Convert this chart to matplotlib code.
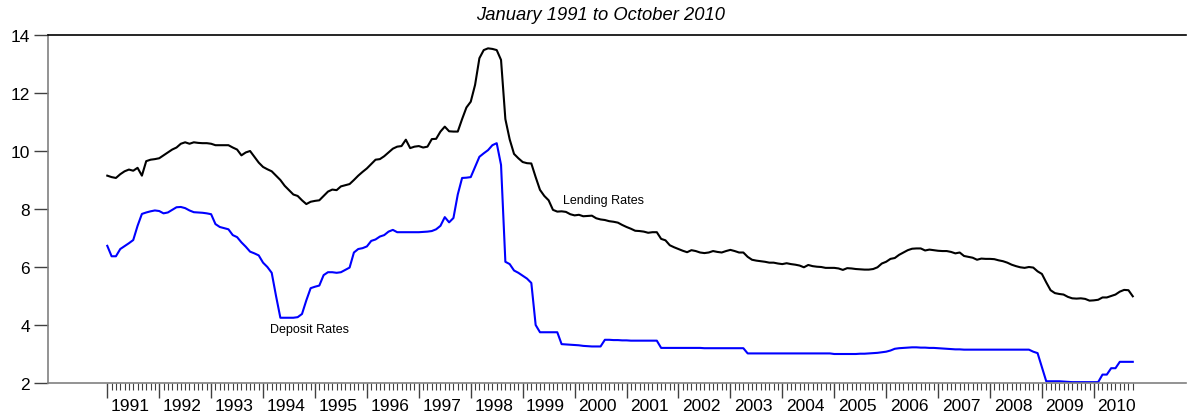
import numpy as np
import matplotlib
matplotlib.use("Agg")
import matplotlib.pyplot as plt

plt.rcParams['font.family'] = ['Liberation Sans', 'DejaVu Sans']

# monthly rates, January 1991 to October 2010
years = list(range(1991, 2011))

lending = [
    9.15, 9.10, 9.07, 9.20, 9.30, 9.36, 9.32, 9.42, 9.15, 9.65, 9.70, 9.72,       # 1991
    9.75, 9.85, 9.95, 10.05, 10.12, 10.25, 10.30, 10.25, 10.30, 10.28, 10.27, 10.27,  # 1992
    10.25, 10.20, 10.20, 10.20, 10.20, 10.12, 10.05, 9.85, 9.95, 10.00, 9.80, 9.60,  # 1993
    9.45, 9.37, 9.30, 9.15, 9.00, 8.80, 8.65, 8.50, 8.45, 8.30, 8.17, 8.25,       # 1994
    8.28, 8.30, 8.45, 8.60, 8.67, 8.65, 8.78, 8.82, 8.86, 9.00, 9.15, 9.28,       # 1995
    9.40, 9.55, 9.70, 9.72, 9.82, 9.95, 10.08, 10.15, 10.17, 10.39, 10.10, 10.15,  # 1996
    10.17, 10.12, 10.15, 10.41, 10.42, 10.67, 10.84, 10.68, 10.67, 10.67, 11.10, 11.50,  # 1997
    11.70, 12.28, 13.20, 13.48, 13.54, 13.52, 13.48, 13.14, 11.10, 10.40, 9.90, 9.75,  # 1998
    9.62, 9.58, 9.57, 9.10, 8.66, 8.45, 8.30, 7.97, 7.91, 7.92, 7.90, 7.82,       # 1999
    7.78, 7.80, 7.75, 7.76, 7.77, 7.68, 7.64, 7.62, 7.58, 7.56, 7.53, 7.45,       # 2000
    7.38, 7.32, 7.25, 7.24, 7.22, 7.18, 7.20, 7.20, 6.97, 6.92, 6.75, 6.68,       # 2001
    6.62, 6.56, 6.51, 6.58, 6.55, 6.50, 6.48, 6.50, 6.55, 6.52, 6.50, 6.55,       # 2002
    6.59, 6.55, 6.50, 6.50, 6.35, 6.25, 6.22, 6.20, 6.18, 6.15, 6.15, 6.12,       # 2003
    6.10, 6.13, 6.10, 6.08, 6.05, 5.99, 6.07, 6.03, 6.01, 6.00, 5.97, 5.97,       # 2004
    5.97, 5.95, 5.90, 5.96, 5.95, 5.93, 5.92, 5.91, 5.91, 5.93, 5.99, 6.12,       # 2005
    6.18, 6.28, 6.31, 6.42, 6.50, 6.58, 6.63, 6.64, 6.64, 6.57, 6.60, 6.58,       # 2006
    6.56, 6.55, 6.55, 6.52, 6.47, 6.50, 6.38, 6.35, 6.32, 6.25, 6.29, 6.28,       # 2007
    6.28, 6.27, 6.23, 6.20, 6.15, 6.08, 6.03, 5.99, 5.97, 6.00, 5.98, 5.85,       # 2008
    5.76, 5.47, 5.20, 5.10, 5.07, 5.05, 4.97, 4.92, 4.91, 4.92, 4.90, 4.84,       # 2009
    4.85, 4.87, 4.95, 4.95, 5.00, 5.05, 5.15, 5.21, 5.20, 4.99,                   # 2010
]

deposit = [
    6.73, 6.37, 6.37, 6.62, 6.72, 6.82, 6.93, 7.42, 7.83, 7.88, 7.92, 7.95,       # 1991
    7.93, 7.85, 7.88, 7.97, 8.06, 8.07, 8.03, 7.95, 7.89, 7.88, 7.87, 7.85,       # 1992
    7.82, 7.48, 7.38, 7.34, 7.30, 7.10, 7.03, 6.85, 6.70, 6.53, 6.47, 6.40,       # 1993
    6.15, 6.00, 5.80, 5.00, 4.25, 4.25, 4.25, 4.25, 4.27, 4.38, 4.85, 5.27,       # 1994
    5.32, 5.36, 5.72, 5.82, 5.82, 5.80, 5.82, 5.90, 5.98, 6.50, 6.62, 6.65,       # 1995
    6.71, 6.90, 6.95, 7.05, 7.10, 7.22, 7.28, 7.20, 7.20, 7.20, 7.20, 7.20,       # 1996
    7.20, 7.21, 7.22, 7.24, 7.30, 7.42, 7.72, 7.54, 7.69, 8.50, 9.07, 9.08,       # 1997
    9.10, 9.45, 9.80, 9.92, 10.03, 10.20, 10.27, 9.52, 6.18, 6.10, 5.88, 5.80,    # 1998
    5.70, 5.60, 5.45, 4.00, 3.75, 3.75, 3.75, 3.75, 3.75, 3.34, 3.33, 3.32,       # 1999
    3.31, 3.30, 3.28, 3.27, 3.26, 3.26, 3.26, 3.49, 3.49, 3.48, 3.48, 3.47,       # 2000
    3.47, 3.46, 3.46, 3.46, 3.46, 3.46, 3.46, 3.46, 3.21, 3.21, 3.21, 3.21,       # 2001
    3.21, 3.21, 3.21, 3.21, 3.21, 3.21, 3.20, 3.20, 3.20, 3.20, 3.20, 3.20,       # 2002
    3.20, 3.20, 3.20, 3.20, 3.02, 3.02, 3.02, 3.02, 3.02, 3.02, 3.02, 3.02,       # 2003
    3.02, 3.02, 3.02, 3.02, 3.02, 3.02, 3.02, 3.02, 3.02, 3.02, 3.02, 3.02,       # 2004
    3.00, 3.00, 3.00, 3.00, 3.00, 3.00, 3.01, 3.01, 3.02, 3.03, 3.04, 3.06,       # 2005
    3.08, 3.12, 3.18, 3.20, 3.21, 3.22, 3.23, 3.23, 3.22, 3.22, 3.21, 3.21,       # 2006
    3.20, 3.19, 3.18, 3.17, 3.16, 3.16, 3.15, 3.15, 3.15, 3.15, 3.15, 3.15,       # 2007
    3.15, 3.15, 3.15, 3.15, 3.15, 3.15, 3.15, 3.15, 3.15, 3.15, 3.08, 3.03,       # 2008
    2.55, 2.06, 2.06, 2.06, 2.06, 2.05, 2.04, 2.03, 2.03, 2.03, 2.03, 2.03,       # 2009
    2.03, 2.03, 2.29, 2.29, 2.51, 2.51, 2.73, 2.73, 2.73, 2.73,                   # 2010
]

months = np.arange(len(lending))

fig = plt.figure(figsize=(11.87, 4.14), dpi=100)
ax = fig.add_axes([48 / 1187, 1 - 384 / 414, 1138 / 1187, 348 / 414])

ax.plot(months, lending, color='black', lw=1.5)
ax.plot(months, deposit, color='#0000ff', lw=1.5)

ax.set_xlim(-13.7, 249.3)
ax.set_ylim(2, 14)

# spines
ax.spines['right'].set_visible(False)
ax.spines['top'].set_color('black')
ax.spines['left'].set_color('#808080')
ax.spines['bottom'].set_color('#808080')
for s in ax.spines.values():
    s.set_linewidth(1.2)

# y axis
ax.set_yticks([2, 4, 6, 8, 10, 12, 14])
ax.tick_params(axis='y', direction='out', length=10, width=1, color='#404040',
               labelsize=12.5, pad=3)

# x axis: long ticks each January, short ticks every month
ax.set_xticks(np.arange(0, len(months), 12))
ax.set_xticklabels([])
ax.set_xticks(months, minor=True)
ax.tick_params(axis='x', which='major', direction='out', length=11, width=1, color='#404040')
ax.tick_params(axis='x', which='minor', direction='out', length=5, width=0.8, color='#404040')

for i, yr in enumerate(years):
    ax.text(12 * i + 5.3, -0.064, str(yr), transform=ax.get_xaxis_transform(),
            ha='center', va='center', fontsize=12.5)

ax.text(37.6, 3.86, 'Deposit Rates', fontsize=9, ha='left', va='center')
ax.text(105.3, 8.31, 'Lending Rates', fontsize=9, ha='left', va='center')

fig.text(601 / 1187, 1 - 16 / 414, 'January 1991 to October 2010', ha='center',
         va='center', fontsize=13.2, style='italic')

fig.savefig('out.png', dpi=100)
